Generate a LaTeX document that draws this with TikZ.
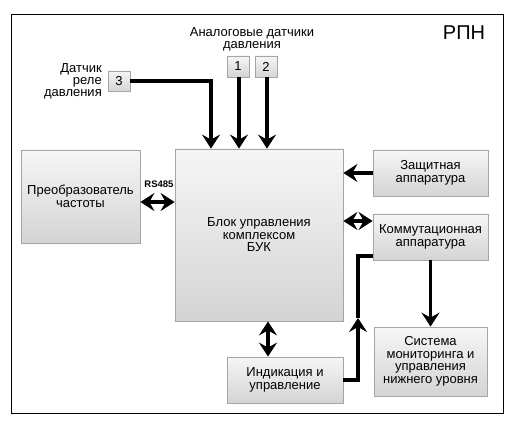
\documentclass[tikz,border=0pt]{standalone}
\usepackage{fontspec}
\setmainfont{Liberation Sans}
\usetikzlibrary{arrows.meta,calc}
\definecolor{boxtop}{RGB}{246,246,246}
\definecolor{boxbot}{RGB}{212,212,212}
\definecolor{boxline}{RGB}{165,165,165}
\tikzset{
  blk/.style={draw=boxline, line width=0.8pt, top color=boxtop, bottom color=boxbot,
    align=center, inner sep=2pt, font=\fontsize{13}{12.5}\selectfont},
  numbox/.style={blk, minimum width=22pt, minimum height=20pt, inner sep=0pt},
  lbl/.style={font=\fontsize{13}{12}\selectfont, inner sep=0pt},
  arr/.style={line width=3.8pt, black, -{Stealth[length=14pt 0,width=18pt 0,inset=5pt 0]}},
  darr/.style={line width=3.8pt, black, {Stealth[length=14pt 0,width=18pt 0,inset=5pt 0]}-{Stealth[length=14pt 0,width=18pt 0,inset=5pt 0]}},
  ln/.style={line width=3.8pt, black},
}
\begin{document}
\begin{tikzpicture}[x=1pt,y=-1pt]
\useasboundingbox (0,0) rectangle (514,430);
\fill[white] (0,0) rectangle (514,430);
\node[draw=black, line width=1pt, minimum width=492pt, minimum height=398pt, inner sep=0pt] (frame) at (257,214) {};
\node[font=\fontsize{20}{20}\selectfont, inner sep=0pt] (rpn) at (464,33) {РПН};

\node[blk, minimum width=119pt, minimum height=93pt] (conv) at (80.5,196.5) {Преобразователь\\частоты};
\node[blk, minimum width=168pt, minimum height=172pt] (buk) at (259,235) {Блок управления\\комплексом\\БУК};
\node[blk, minimum width=115pt, minimum height=46pt] (zash) at (430.5,173) {Защитная\\аппаратура};
\node[blk, minimum width=115pt, minimum height=46pt] (komm) at (430.5,237) {Коммутационная\\аппаратура};
\node[blk, minimum width=113pt, minimum height=69pt] (sys) at (430.5,361.5) {Система\\мониторинга и\\управления\\нижнего уровня};
\node[blk, minimum width=116pt, minimum height=46pt] (ind) at (285,380) {Индикация и\\управление};

\node[numbox] (s3) at (119,81) {3};
\node[numbox, minimum height=21pt] (s1) at (238,66.5) {1};
\node[numbox, minimum height=21pt] (s2) at (266,66.5) {2};

\node[lbl, align=right, anchor=east] (l3) at (102,81) {Датчик\\реле\\давления};
\node[lbl, align=center] (l12) at (252,39) {Аналоговые датчики\\давления};
\node[font=\bfseries\fontsize{9.5}{10}\selectfont, inner sep=0pt] (rs) at (159,184) {RS485};

% top arrows
\coordinate (b3) at (211,81);
\draw[arr] (s3.east) -- (b3) -- (b3 |- buk.north);
\draw[arr] ([xshift=1pt]s1.south) -- ([xshift=1pt]s1.south |- buk.north);
\draw[arr] ([xshift=1pt]s2.south) -- ([xshift=1pt]s2.south |- buk.north);

% left
\draw[darr] ([yshift=-5.5pt]conv.east) -- ([yshift=-5.5pt]conv.east -| buk.west);

% right
\draw[arr] (zash.west) -- (zash.west -| buk.east);
\draw[darr] ([yshift=16pt]komm.west) -- ([yshift=16pt]komm.west -| buk.east);
\draw[arr] (komm.south) -- (sys.north);

% bottom
\draw[darr] ([xshift=9pt]buk.south) -- ([xshift=9pt]buk.south |- ind.north);
\coordinate (c1) at (358,380);
\coordinate (m1) at (358,318);
\coordinate (c2) at (358,256);
\draw[ln] (m1) -- (c2) -- (c2 -| komm.west);
\draw[arr] (ind.east) -- (c1) -- (m1);
\end{tikzpicture}
\end{document}
